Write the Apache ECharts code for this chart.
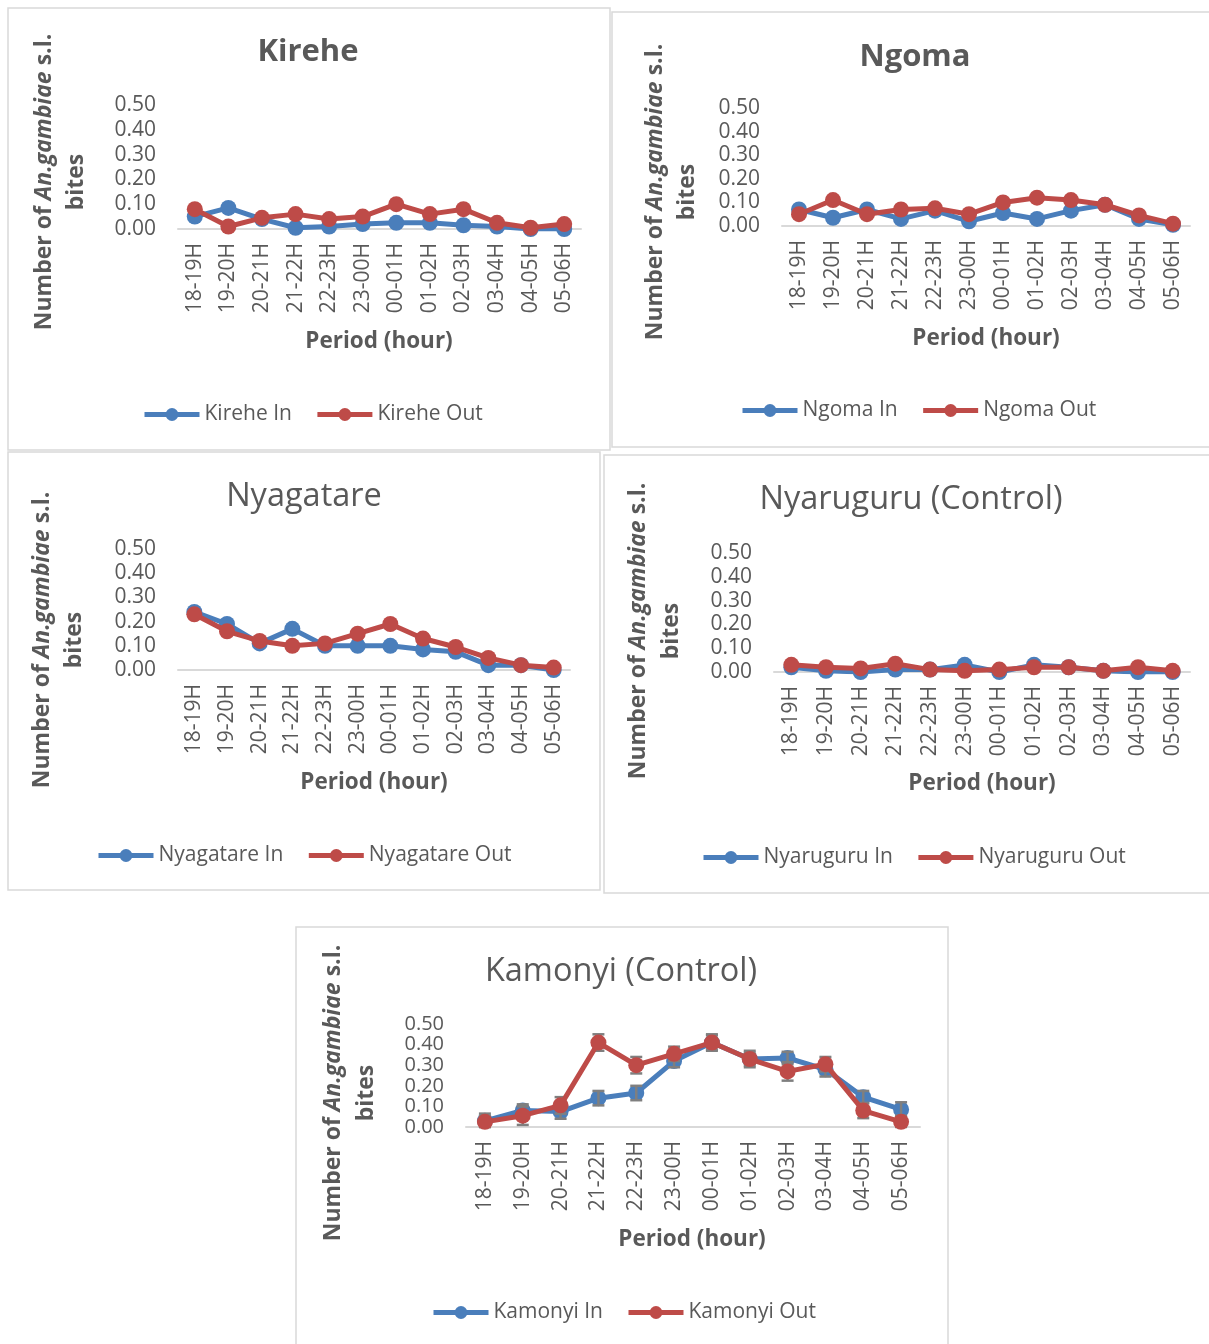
<!DOCTYPE html>
<html>
<head>
<meta charset="utf-8">
<script src="https://cdn.jsdelivr.net/npm/echarts@6/dist/echarts.min.js"></script>
<style>
html,body{margin:0;padding:0;background:#fff;}
#c{width:1209px;height:1344px;}
</style>
</head>
<body>
<div id="c"></div>
<script>
const categories = ['18-19H','19-20H','20-21H','21-22H','22-23H','23-00H','00-01H','01-02H','02-03H','03-04H','04-05H','05-06H'];
const yTicks = [0, 0.1, 0.2, 0.3, 0.4, 0.5];

const kireheIn  = [0.05, 0.085, 0.04, 0.005, 0.01, 0.02, 0.025, 0.025, 0.015, 0.01, 0.00, 0.00];
const kireheOut = [0.08, 0.01, 0.045, 0.06, 0.04, 0.05, 0.10, 0.06, 0.08, 0.025, 0.005, 0.02];

const ngomaIn  = [0.07, 0.035, 0.07, 0.03, 0.065, 0.02, 0.055, 0.03, 0.065, 0.09, 0.03, 0.005];
const ngomaOut = [0.05, 0.11, 0.05, 0.07, 0.075, 0.05, 0.10, 0.12, 0.11, 0.09, 0.045, 0.01];

const nyagatareIn  = [0.24, 0.19, 0.11, 0.17, 0.10, 0.10, 0.10, 0.085, 0.075, 0.02, 0.02, 0.00];
const nyagatareOut = [0.23, 0.16, 0.12, 0.10, 0.11, 0.15, 0.19, 0.13, 0.095, 0.05, 0.02, 0.01];

const nyaruguruIn  = [0.02, 0.005, 0.00, 0.01, 0.01, 0.03, 0.00, 0.03, 0.02, 0.005, 0.00, 0.00];
const nyaruguruOut = [0.03, 0.02, 0.015, 0.035, 0.01, 0.005, 0.01, 0.02, 0.02, 0.005, 0.02, 0.005];

const kamonyiIn     = [0.03, 0.08, 0.075, 0.14, 0.165, 0.32, 0.41, 0.33, 0.335, 0.28, 0.145, 0.085];
const kamonyiOut    = [0.025, 0.055, 0.105, 0.41, 0.30, 0.355, 0.41, 0.33, 0.27, 0.305, 0.08, 0.025];
const kamonyiInErr  = [0.035, 0.03, 0.035, 0.035, 0.035, 0.03, 0.035, 0.03, 0.03, 0.035, 0.03, 0.035];
const kamonyiOutErr = [0.03, 0.045, 0.04, 0.04, 0.04, 0.035, 0.04, 0.04, 0.045, 0.035, 0.037, 0.03];

const FONT = '"Open Sans", "Liberation Sans", sans-serif';
const TXT = '#595959';
const BLUE = '#4a7ebb';
const RED = '#be4b48';

const panels = [
  {name:'Kirehe', inD:kireheIn, outD:kireheOut, box:[8,8,602,442], grid:[178,105,403,124], title:[308,52,true], xname:[379,342], yname:[44,76,182], legend:[145,412], yFont:21},
  {name:'Ngoma', inD:ngomaIn, outD:ngomaOut, box:[612,12,600,435], grid:[782,108,408,118], title:[915,57,true], xname:[986,339], yname:[655,687,192], legend:[743,408], yFont:21},
  {name:'Nyagatare', inD:nyagatareIn, outD:nyagatareOut, box:[8,452,592,438], grid:[178,549,392,121], title:[304,497,false], xname:[374,783], yname:[42,74,640], legend:[99,853], yFont:21},
  {name:'Nyaruguru', titleText:'Nyaruguru (Control)', inD:nyaruguruIn, outD:nyaruguruOut, box:[604,455,608,438], grid:[774,553,416,119], title:[911,500,false], xname:[982,784], yname:[638,671,631], legend:[704,855], yFont:21},
  {name:'Kamonyi', titleText:'Kamonyi (Control)', inD:kamonyiIn, outD:kamonyiOut, inErr:kamonyiInErr, outErr:kamonyiOutErr, box:[296,927,652,420], grid:[466,1024,454,103], title:[621,972,false], xname:[692,1240], yname:[333,366,1093], legend:[434,1310], yFont:20}
];

const option = {
  animation:false,
  backgroundColor:'#fff',
  grid:[], xAxis:[], yAxis:[], series:[], legend:[], graphic:[]
};

function errSeries(name, vals, errs, gi){
  return {
    type:'custom', name:name, xAxisIndex:gi, yAxisIndex:gi, z:3,
    data: vals.map((v,i)=>[i, v, errs[i]]),
    renderItem:function(params, api){
      const i = api.value(0), v = api.value(1), e = api.value(2);
      const top = api.coord([i, v+e]);
      const bot = api.coord([i, Math.max(0, v-e)]);
      const hw = 6;
      const st = {stroke:'#7f7f7f', lineWidth:2.5};
      return {type:'group', children:[
        {type:'line', shape:{x1:top[0],y1:top[1],x2:bot[0],y2:bot[1]}, style:st},
        {type:'line', shape:{x1:top[0]-hw,y1:top[1],x2:top[0]+hw,y2:top[1]}, style:st},
        {type:'line', shape:{x1:bot[0]-hw,y1:bot[1],x2:bot[0]+hw,y2:bot[1]}, style:st}
      ]};
    }
  };
}

panels.forEach((p, gi)=>{
  option.graphic.push({type:'rect', shape:{x:p.box[0], y:p.box[1], width:p.box[2], height:p.box[3]}, style:{fill:'none', stroke:'#d9d9d9', lineWidth:1.5}, z:-1});
  option.grid.push({left:p.grid[0], top:p.grid[1], width:p.grid[2], height:p.grid[3], containLabel:false});
  option.xAxis.push({
    type:'category', gridIndex:gi, data:categories, boundaryGap:true,
    axisLine:{lineStyle:{color:'#d9d9d9', width:2}},
    axisTick:{show:false},
    axisLabel:{rotate:90, interval:0, color:TXT, fontFamily:FONT, fontSize:21, margin:14}
  });
  option.yAxis.push({
    type:'value', gridIndex:gi, min:0, max:yTicks[yTicks.length-1], interval:0.1,
    axisLine:{show:false}, axisTick:{show:false}, splitLine:{show:false},
    axisLabel:{color:TXT, fontFamily:FONT, fontSize:p.yFont, margin:22, lineHeight:16,
      showMinLabel:true, showMaxLabel:true, hideOverlap:false, formatter:v=>v.toFixed(2)}
  });
  const inName = p.name + ' In', outName = p.name + ' Out';
  if (p.inErr) {
    option.series.push(errSeries(inName+' err', p.inD, p.inErr, gi));
    option.series.push(errSeries(outName+' err', p.outD, p.outErr, gi));
  }
  option.series.push({
    type:'line', name:inName, xAxisIndex:gi, yAxisIndex:gi, data:p.inD, z:2,
    symbol:'circle', symbolSize:16, color:BLUE,
    lineStyle:{width:5, color:BLUE}, itemStyle:{color:BLUE}
  });
  option.series.push({
    type:'line', name:outName, xAxisIndex:gi, yAxisIndex:gi, data:p.outD, z:4,
    symbol:'circle', symbolSize:16, color:RED,
    lineStyle:{width:5, color:RED}, itemStyle:{color:RED}
  });
  option.legend.push({
    data:[inName, outName], left:p.legend[0]-3, top:p.legend[1]-8, orient:'horizontal', padding:0,
    itemWidth:55, itemHeight:16, itemGap:23,
    lineStyle:{width:5},
    textStyle:{color:TXT, fontFamily:FONT, fontSize:21}
  });
  option.graphic.push({type:'text', x:p.title[0], y:p.title[1], z:10,
    style:{text:p.titleText||p.name, fill:TXT, font:(p.title[2]?'bold 31px ':'32.5px ')+FONT, align:'center', verticalAlign:'middle'}});
  option.graphic.push({type:'text', x:p.xname[0], y:p.xname[1], z:10,
    style:{text:'Period (hour)', fill:TXT, font:'bold 22.5px '+FONT, align:'center', verticalAlign:'middle'}});
  option.graphic.push({type:'text', x:p.yname[0], y:p.yname[2], rotation:Math.PI/2, z:10,
    style:{text:'{a|Number of }{b|An.gambiae}{a| s.l.}', align:'center', verticalAlign:'middle',
      rich:{a:{fill:TXT, font:'bold 23px '+FONT}, b:{fill:TXT, font:'italic bold 23px '+FONT}}}});
  option.graphic.push({type:'text', x:p.yname[1], y:p.yname[2], rotation:Math.PI/2, z:10,
    style:{text:'bites', fill:TXT, font:'bold 23px '+FONT, align:'center', verticalAlign:'middle'}});
});

const chart = echarts.init(document.getElementById('c'), null, {renderer:'canvas'});
chart.setOption(option);
</script>
</body>
</html>
